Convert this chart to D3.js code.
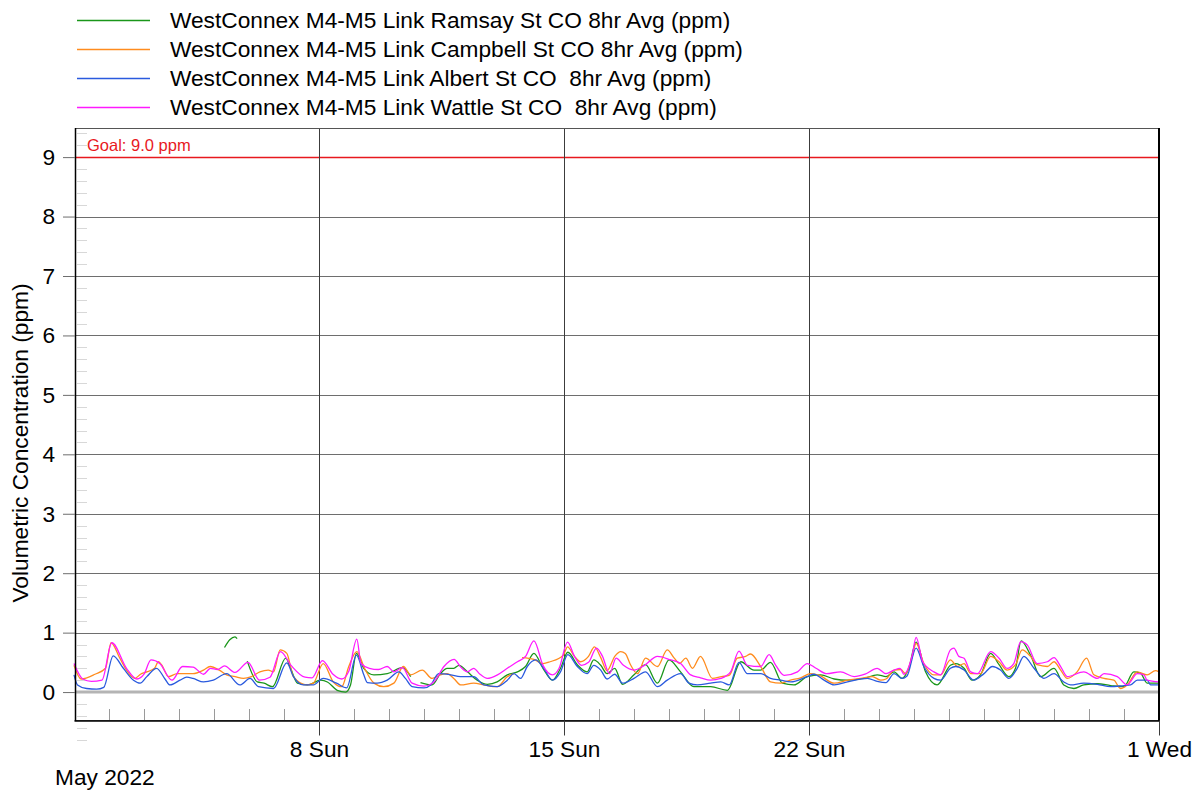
<html>
  <head>
    <title>WestConnex M4-M5 Link CO 8hr Avg</title>
    <script src="https://d3js.org/d3.v7.min.js"></script>
    <style>
      body{ margin: 0; background: #fff; }
      text{ font-family: "Liberation Sans", Arial, sans-serif; }
    </style>
  </head>
  <body>
    <svg width="1201" height="791"></svg>
    <script>
    // readings: [day offset from 1 May 2022 00:00, ppm]; null = no data
    var ramsay = [[0,null],[4.3,0.75],[4.45,0.88],[4.6,0.93],[4.66,0.9],[4.8,null],[4.95,0.52],[5.24,0.17],[5.43,0.15],[5.67,0.09],[6.05,0.57],[6.19,0.4],[6.38,0.15],[6.67,0.12],[7.05,0.2],[7.24,0.17],[7.52,0.03],[7.76,0.0],[7.9,0.12],[8.07,0.65],[8.28,0.4],[8.57,0.29],[8.95,0.31],[9.38,0.41],[9.62,0.26],[9.76,null],[9.9,0.16],[10.23,0.12],[10.47,0.31],[10.66,0.4],[10.85,0.4],[11.0,0.45],[11.24,0.34],[11.52,0.2],[11.81,0.13],[12.09,0.17],[12.38,0.29],[12.67,0.34],[12.9,0.43],[13.14,0.65],[13.4,0.4],[13.67,0.2],[13.9,0.4],[14.11,0.67],[14.38,0.46],[14.66,0.34],[14.85,0.54],[15.05,0.45],[15.23,0.31],[15.45,0.4],[15.67,0.13],[16.0,0.29],[16.33,0.46],[16.67,0.15],[17.0,0.54],[17.33,0.34],[17.71,0.09],[18.19,0.09],[18.67,0.03],[19.05,0.51],[19.43,0.37],[19.62,0.37],[19.9,0.5],[20.24,0.15],[20.57,0.12],[20.95,0.26],[21.33,0.29],[21.72,0.22],[22.1,0.2],[22.57,0.23],[22.95,0.29],[23.2,0.26],[23.43,0.34],[23.66,0.23],[23.85,0.4],[24.06,0.84],[24.33,0.34],[24.66,0.12],[25.04,0.45],[25.19,0.48],[25.43,0.4],[25.66,0.2],[25.9,0.29],[26.19,0.65],[26.43,0.46],[26.71,0.26],[26.9,0.4],[27.06,0.86],[27.33,0.62],[27.62,0.26],[28.0,0.4],[28.28,0.12],[28.57,0.06],[28.85,0.12],[29.24,0.14],[29.62,0.11],[30.0,0.09],[30.28,0.34],[30.47,0.32],[30.66,0.15],[31.0,0.15]];
    var campbell = [[0,0.45],[0.2,0.22],[0.6,0.3],[0.9,0.4],[1.06,0.83],[1.31,0.57],[1.5,0.37],[1.74,0.23],[1.9,0.3],[2.08,0.34],[2.3,0.4],[2.41,0.51],[2.5,0.46],[2.7,0.26],[2.95,0.31],[3.4,0.31],[3.7,0.37],[3.89,0.43],[4.15,0.37],[4.36,0.29],[4.6,0.26],[4.84,0.23],[5.07,0.26],[5.31,0.34],[5.55,0.37],[5.7,0.34],[5.89,0.71],[6.08,0.65],[6.27,0.26],[6.65,0.12],[6.84,0.15],[7.12,0.48],[7.41,0.17],[7.65,0.09],[7.85,0.43],[8.08,0.68],[8.3,0.4],[8.57,0.15],[8.85,0.09],[9.14,0.15],[9.41,0.43],[9.62,0.29],[9.95,0.37],[10.23,0.23],[10.47,0.29],[10.66,0.31],[10.85,0.23],[11.05,0.12],[11.42,0.15],[11.71,0.12],[12.09,0.09],[12.38,0.26],[12.57,0.31],[12.68,null],[12.8,0.58],[13.14,0.55],[13.4,0.48],[13.6,0.51],[13.98,0.62],[14.1,0.76],[14.3,0.6],[14.47,0.51],[14.7,0.6],[14.87,0.76],[15.05,0.58],[15.23,0.36],[15.45,0.6],[15.62,0.68],[15.75,0.65],[15.9,0.46],[16.1,0.31],[16.33,0.57],[16.67,0.43],[16.95,0.71],[17.15,0.57],[17.3,0.48],[17.48,0.57],[17.67,0.4],[17.9,0.6],[18.24,0.23],[18.5,0.26],[18.72,0.28],[18.95,0.57],[19.19,0.6],[19.33,0.64],[19.62,0.43],[19.9,0.17],[20.19,0.15],[20.47,0.2],[20.76,0.24],[21.05,0.31],[21.3,0.28],[21.72,0.15],[22.1,0.2],[22.48,0.23],[22.81,0.26],[23.05,0.2],[23.2,0.22],[23.43,0.37],[23.62,0.38],[23.76,0.31],[23.95,0.6],[24.06,0.82],[24.28,0.48],[24.57,0.29],[24.76,0.29],[25.04,0.54],[25.24,0.43],[25.43,0.48],[25.62,0.31],[25.9,0.31],[26.19,0.6],[26.43,0.51],[26.66,0.37],[26.9,0.46],[27.09,0.71],[27.33,0.6],[27.52,0.46],[27.81,0.43],[28.0,0.51],[28.19,0.37],[28.38,0.23],[28.66,0.34],[28.93,0.57],[29.14,0.29],[29.43,0.23],[29.71,0.2],[29.9,0.06],[30.09,0.12],[30.38,0.34],[30.66,0.29],[30.9,0.36],[31.0,0.34]];
    var albert = [[0,0.29],[0.1,0.12],[0.36,0.06],[0.65,0.05],[0.85,0.08],[1.12,0.61],[1.41,0.4],[1.7,0.2],[1.89,0.15],[2.08,0.26],[2.36,0.4],[2.6,0.22],[2.74,0.12],[3.03,0.2],[3.22,0.25],[3.4,0.23],[3.7,0.17],[3.98,0.2],[4.36,0.31],[4.74,0.12],[5.03,0.23],[5.27,0.09],[5.7,0.06],[6.08,0.49],[6.27,0.26],[6.55,0.12],[6.84,0.12],[7.12,0.23],[7.5,0.15],[7.79,0.07],[8.07,0.62],[8.28,0.29],[8.38,0.16],[8.66,0.15],[8.95,0.2],[9.28,0.34],[9.47,0.23],[9.66,0.09],[10.0,0.07],[10.19,0.12],[10.42,0.31],[10.76,0.29],[11.04,0.26],[11.42,0.26],[11.71,0.12],[12.09,0.09],[12.38,0.2],[12.57,0.31],[12.76,0.23],[12.95,0.43],[13.19,0.54],[13.42,0.4],[13.67,0.2],[13.9,0.34],[14.11,0.63],[14.38,0.43],[14.66,0.31],[14.85,0.45],[15.05,0.37],[15.23,0.22],[15.45,0.3],[15.67,0.15],[16.0,0.23],[16.33,0.34],[16.67,0.09],[16.95,0.2],[17.33,0.31],[17.57,0.15],[17.81,0.12],[18.19,0.15],[18.48,0.17],[18.72,0.12],[19.0,0.5],[19.24,0.31],[19.62,0.31],[19.9,0.23],[20.19,0.2],[20.48,0.17],[20.95,0.26],[21.14,0.3],[21.43,0.2],[21.72,0.12],[22.1,0.17],[22.67,0.23],[22.95,0.18],[23.2,0.16],[23.43,0.31],[23.66,0.23],[23.8,0.27],[24.06,0.74],[24.28,0.43],[24.57,0.23],[24.76,0.2],[25.04,0.4],[25.19,0.43],[25.43,0.37],[25.71,0.2],[26.0,0.31],[26.24,0.43],[26.47,0.37],[26.71,0.23],[26.95,0.4],[27.14,0.6],[27.43,0.4],[27.71,0.23],[28.0,0.31],[28.28,0.17],[28.47,0.12],[28.85,0.15],[29.24,0.13],[29.62,0.09],[30.0,0.11],[30.19,0.12],[30.38,0.2],[30.66,0.2],[30.76,0.12],[31.0,0.12]];
    var wattle = [[0,0.48],[0.25,0.22],[0.5,0.18],[0.8,0.2],[1.08,0.83],[1.5,0.4],[1.8,0.22],[2.0,0.3],[2.2,0.54],[2.45,0.48],[2.8,0.2],[3.1,0.43],[3.4,0.42],[3.7,0.3],[3.9,0.4],[4.1,0.38],[4.3,0.44],[4.6,0.33],[4.97,0.5],[5.3,0.2],[5.6,0.25],[5.9,0.68],[6.2,0.45],[6.6,0.25],[6.8,0.24],[7.1,0.53],[7.4,0.3],[7.65,0.22],[7.85,0.35],[8.08,0.89],[8.2,0.48],[8.44,0.4],[8.7,0.38],[8.95,0.43],[9.14,0.34],[9.38,0.41],[9.66,0.15],[10.0,0.1],[10.3,0.18],[10.57,0.43],[10.86,0.55],[11.05,0.42],[11.24,0.34],[11.42,0.4],[11.6,0.3],[11.81,0.23],[12.1,0.29],[12.38,0.4],[12.67,0.51],[12.9,0.6],[13.14,0.86],[13.4,0.45],[13.67,0.29],[13.86,0.4],[14.1,0.84],[14.3,0.6],[14.5,0.45],[14.7,0.5],[14.93,0.74],[15.1,0.6],[15.3,0.31],[15.49,0.57],[15.7,0.45],[16.0,0.37],[16.3,0.45],[16.67,0.6],[17.05,0.54],[17.33,0.48],[17.62,0.29],[17.9,0.24],[18.19,0.2],[18.48,0.23],[18.76,0.34],[19.0,0.69],[19.24,0.45],[19.62,0.43],[19.86,0.63],[20.05,0.45],[20.29,0.28],[20.67,0.34],[20.95,0.48],[21.2,0.4],[21.5,0.31],[21.9,0.34],[22.29,0.26],[22.6,0.3],[22.95,0.4],[23.2,0.31],[23.43,0.37],[23.6,0.4],[23.71,0.3],[23.95,0.62],[24.06,0.92],[24.25,0.51],[24.57,0.34],[24.76,0.29],[25.04,0.71],[25.14,0.74],[25.28,0.6],[25.43,0.57],[25.62,0.34],[25.81,0.31],[26.19,0.68],[26.43,0.57],[26.66,0.4],[26.85,0.48],[27.05,0.85],[27.24,0.79],[27.52,0.48],[27.81,0.51],[28.0,0.58],[28.19,0.43],[28.38,0.26],[28.85,0.34],[29.24,0.23],[29.43,0.31],[29.81,0.26],[30.09,0.12],[30.38,0.31],[30.57,0.29],[30.66,0.2],[31.0,0.17]];

    var seriesNames = ["WestConnex M4-M5 Link Ramsay St CO 8hr Avg (ppm)",
                       "WestConnex M4-M5 Link Campbell St CO 8hr Avg (ppm)",
                       "WestConnex M4-M5 Link Albert St CO  8hr Avg (ppm)",
                       "WestConnex M4-M5 Link Wattle St CO  8hr Avg (ppm)"];
    var seriesColors = ["#1a961a", "#ff8c1e", "#2a5ade", "#ff1aff"];
    var seriesData = [ramsay, campbell, albert, wattle];
    var yTicks = [0,1,2,3,4,5,6,7,8,9];
    var goal = 9.0;
    var majorDays = [7, 14, 21, 31];

    var t0 = new Date(2022, 4, 1);
    var toDate = function(d){ return new Date(t0.getTime() + d * 864e5); };

    var svg = d3.select("svg");
    var pLeft = 75, pRight = 1159, pTop = 128, pBottom = 720;
    var fs = "22.7px";
    var x = d3.scaleTime().domain([t0, toDate(31)]).range([74, pRight]);
    var y = d3.scaleLinear().domain([-0.47, 9.49]).range([pBottom, pTop]);

    // minor y ticks every 0.2
    var minorY = d3.range(-4, 48).map(function(i){ return i / 5; }).filter(function(v){ return Math.abs(v - Math.round(v)) > 0.01; });
    svg.append("g").selectAll("line").data(minorY).enter().append("line")
      .attr("x1", pLeft + 2).attr("x2", pLeft + 12)
      .attr("y1", function(d){ return Math.round(y(d)) + 0.5; })
      .attr("y2", function(d){ return Math.round(y(d)) + 0.5; })
      .attr("stroke", "#d8d8d8");

    // horizontal grid
    svg.append("g").selectAll("line").data(yTicks.filter(function(d){ return d > 0; })).enter().append("line")
      .attr("x1", pLeft).attr("x2", pRight)
      .attr("y1", function(d){ return Math.round(y(d)) + 0.5; })
      .attr("y2", function(d){ return Math.round(y(d)) + 0.5; })
      .attr("stroke", function(d){ return d == goal ? "#e8191e" : "#6e6e6e"; })
      .attr("stroke-width", function(d){ return d == goal ? 1.5 : 1; });
    svg.append("line").attr("x1", pLeft).attr("x2", pRight)
      .attr("y1", y(0)).attr("y2", y(0))
      .attr("stroke", "#b4b4b4").attr("stroke-width", 3);

    // vertical grid at major days
    svg.append("g").selectAll("line").data(majorDays.slice(0, 3)).enter().append("line")
      .attr("x1", function(d){ return Math.round(x(toDate(d))) + 0.5; })
      .attr("x2", function(d){ return Math.round(x(toDate(d))) + 0.5; })
      .attr("y1", pTop).attr("y2", pBottom)
      .attr("stroke", "#3c3c3c");

    // minor day ticks
    svg.append("g").selectAll("line").data(d3.range(1, 31).filter(function(d){ return majorDays.indexOf(d) < 0; })).enter().append("line")
      .attr("x1", function(d){ return Math.round(x(toDate(d))) + 0.5; })
      .attr("x2", function(d){ return Math.round(x(toDate(d))) + 0.5; })
      .attr("y1", pBottom - 11).attr("y2", pBottom)
      .attr("stroke", "#9a9a9a");

    svg.append("text").attr("x", 87).attr("y", 151)
      .attr("fill", "#e8191e").style("font-size", "16.5px")
      .text("Goal: " + goal.toFixed(1) + " ppm");

    // series
    var line = d3.line()
      .defined(function(d){ return d[1] != null; })
      .x(function(d){ return x(toDate(d[0])); })
      .y(function(d){ return y(d[1]); })
      .curve(d3.curveMonotoneX);
    svg.append("g").attr("fill", "none").attr("stroke-width", 1.3)
      .selectAll("path").data(seriesData).enter().append("path")
      .attr("stroke", function(d, i){ return seriesColors[i]; })
      .attr("d", line);

    // frame
    svg.append("rect").attr("x", pLeft + 0.5).attr("y", pTop + 0.5)
      .attr("width", pRight - pLeft).attr("height", pBottom - pTop)
      .attr("fill", "none").attr("stroke", "#555");
    svg.append("line").attr("x1", pLeft + 0.5).attr("x2", pLeft + 0.5).attr("y1", pTop).attr("y2", pBottom + 1)
      .attr("stroke", "#000").attr("stroke-width", 1.5);
    svg.append("line").attr("x1", pRight).attr("x2", pRight).attr("y1", pTop).attr("y2", pBottom + 1)
      .attr("stroke", "#000").attr("stroke-width", 2);

    // axes
    var yAxis = svg.append("g").attr("transform", "translate(" + pLeft + ",0)")
      .call(d3.axisLeft(y).tickValues(yTicks).tickSize(12).tickPadding(8));
    yAxis.select(".domain").remove();
    yAxis.selectAll(".tick line").attr("stroke", "#6e6e6e");
    yAxis.selectAll("text").style("font-size", fs).attr("fill", "#000");

    var xAxis = svg.append("g").attr("transform", "translate(0," + (pBottom + 0.5) + ")")
      .call(d3.axisBottom(x).tickValues(majorDays.map(toDate)).tickSize(15).tickSizeOuter(0).tickPadding(5)
        .tickFormat(d3.timeFormat("%-d %a")));
    xAxis.select(".domain").attr("stroke", "#000").attr("stroke-width", 1.5);
    xAxis.selectAll(".tick line").attr("stroke", "#3c3c3c");
    xAxis.selectAll("text").style("font-size", fs).attr("fill", "#000");

    svg.append("text").attr("x", 55).attr("y", 785).style("font-size", fs).text("May 2022");

    svg.append("text").attr("transform", "translate(28," + 443 + ") rotate(-90)")
      .attr("text-anchor", "middle").style("font-size", fs)
      .text("Volumetric Concentration (ppm)");

    // legend
    var leg = svg.append("g").selectAll("g").data(seriesNames).enter().append("g")
      .attr("transform", function(d, i){ return "translate(0," + (20 + i * 29) + ")"; });
    leg.append("line").attr("x1", 77).attr("x2", 150).attr("y1", 0.5).attr("y2", 0.5)
      .attr("stroke", function(d, i){ return seriesColors[i]; }).attr("stroke-width", 1.3);
    leg.append("text").attr("x", 170).attr("y", 8).style("font-size", fs)
      .style("white-space", "pre").text(function(d){ return d; });
    </script>
  </body>
</html>
